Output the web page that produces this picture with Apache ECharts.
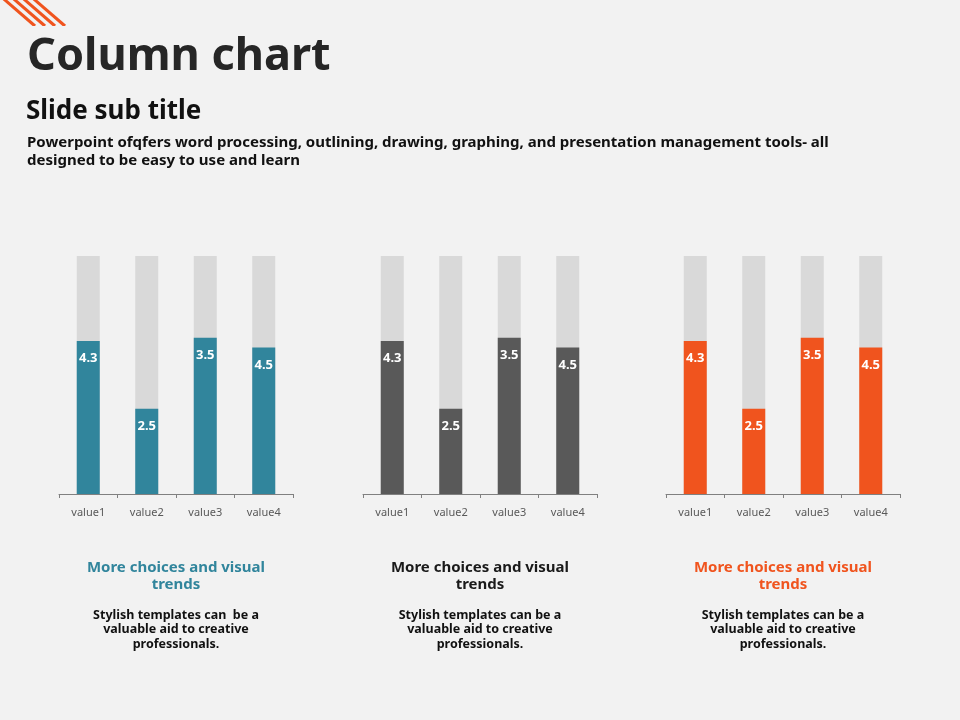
<!DOCTYPE html>
<html><head><meta charset="utf-8">
<script src="https://cdn.jsdelivr.net/npm/echarts@6/dist/echarts.min.js"></script>
<style>html,body{margin:0;padding:0;background:#f2f2f2}#c{width:960px;height:720px}</style>
</head><body><div id="c"></div>
<script>
const categories = ['value1','value2','value3','value4'];
const barHeights = [64.3, 35.8, 65.7, 61.6];
const barLabels = ['4.3','2.5','3.5','4.5'];
const trackMax = [100, 100, 100, 100];
const panelColors = ['#31859c', '#595959', '#f0541e'];
const headingColors = ['#31859c', '#1a1a1a', '#f0541e'];
const headings = ['More choices and visual\ntrends','More choices and visual\ntrends','More choices and visual\ntrends'];
const bodies = ['Stylish templates can  be a\nvaluable aid to creative\nprofessionals.','Stylish templates can be a\nvaluable aid to creative\nprofessionals.','Stylish templates can be a\nvaluable aid to creative\nprofessionals.'];

const FONT = 'Noto Sans';
const gridLefts = [59, 363, 666];
const gridW = 234;
const grids = [], xAxes = [], yAxes = [], series = [], graphics = [];
gridLefts.forEach((l, i) => {
  grids.push({left: l, width: gridW, top: 256, height: 238});
  xAxes.push({type:'category', gridIndex:i, data:categories,
    axisLine:{lineStyle:{color:'#808080', width:1}},
    axisTick:{show:true, length:4, lineStyle:{color:'#808080'}},
    axisLabel:{color:'#595959', fontSize:11, fontFamily:FONT, margin:13}});
  yAxes.push({type:'value', gridIndex:i, min:0, max:100, show:false, splitLine:{show:false}});
  series.push({type:'bar', xAxisIndex:i, yAxisIndex:i, data:trackMax, barWidth:23,
    itemStyle:{color:'#d9d9d9'}, silent:true, z:1});
  series.push({type:'bar', xAxisIndex:i, yAxisIndex:i, barGap:'-100%', barWidth:23,
    data:barHeights.map((v,k)=>({value:v, label:{formatter:barLabels[k]}})),
    itemStyle:{color:panelColors[i]}, z:2,
    label:{show:true, position:'insideTop', distance:11, color:'#fff', fontWeight:'bold', fontSize:13, fontFamily:FONT}});
  const cx = l + gridW/2;
  graphics.push({type:'text', style:{x:cx, y:559, text:headings[i], align:'center', verticalAlign:'top',
    fill:headingColors[i], font:'bold 15px "'+FONT+'"', lineHeight:17}});
  graphics.push({type:'text', style:{x:cx, y:608, text:bodies[i], align:'center', verticalAlign:'top',
    fill:'#111', font:'bold 12.5px "'+FONT+'"', lineHeight:14.5}});
});
// decorative stripes
[5,15,25,35].forEach(d=>{
  graphics.push({type:'line', shape:{x1:d-3.5, y1:-3, x2:d+30, y2:26}, style:{stroke:'#f0541e', lineWidth:3}});
});
graphics.push({type:'rect', shape:{x:0, y:26, width:100, height:8}, style:{fill:'#f2f2f2'}});
graphics.push({type:'text', style:{x:27, y:57, text:'Column chart', verticalAlign:'middle', fill:'#262626', font:'bold 45px "'+FONT+'"'}});
graphics.push({type:'text', style:{x:26, y:112, text:'Slide sub title', verticalAlign:'middle', fill:'#111', font:'bold 26px "'+FONT+'"'}});
graphics.push({type:'text', style:{x:27, y:133, text:'Powerpoint ofqfers word processing, outlining, drawing, graphing, and presentation management tools- all\ndesigned to be easy to use and learn', verticalAlign:'top', fill:'#111', font:'bold 15px "'+FONT+'"', lineHeight:18.5}});

const chart = echarts.init(document.getElementById('c'));
chart.setOption({backgroundColor:'#f2f2f2', animation:false, grid:grids, xAxis:xAxes, yAxis:yAxes, series:series, graphic:graphics});
</script></body></html>
